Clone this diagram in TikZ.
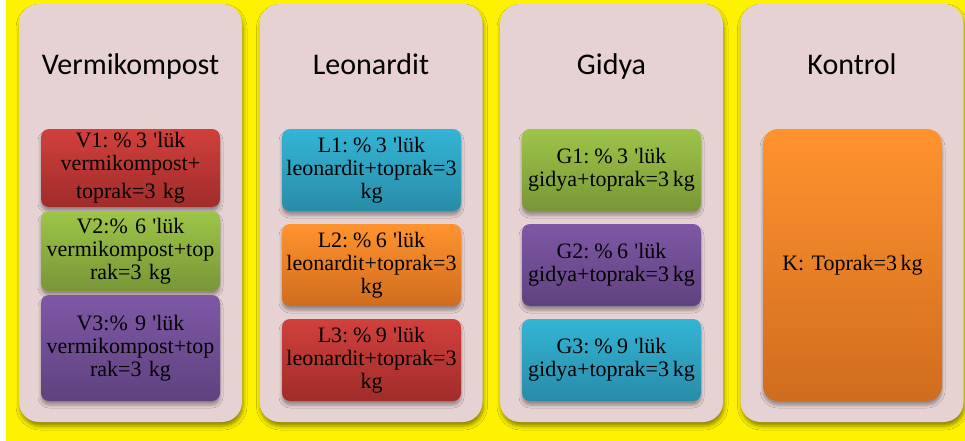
\documentclass[tikz,border=0pt]{standalone}
\usepackage{fontspec}
\setmainfont{Liberation Serif}
\newfontfamily\titlefont{Carlito}
\usetikzlibrary{shadows.blur}

\definecolor{panelpink}{RGB}{230,210,211}
\definecolor{redtop}{RGB}{209,64,60}
\definecolor{redbot}{RGB}{160,44,42}
\definecolor{greentop}{RGB}{158,197,72}
\definecolor{greenbot}{RGB}{120,150,55}
\definecolor{purpletop}{RGB}{126,88,166}
\definecolor{purplebot}{RGB}{95,66,127}
\definecolor{cyantop}{RGB}{52,180,214}
\definecolor{cyanbot}{RGB}{40,140,167}
\definecolor{orangetop}{RGB}{255,147,46}
\definecolor{orangebot}{RGB}{208,108,30}

\newcommand{\ap}{\hspace{-0.05em}\textquotesingle}
\newcommand{\pc}[1]{\hspace{0.22em}\%\hspace{0.2em}#1}

\begin{document}
\begin{tikzpicture}[x=1pt,y=-1pt,
  panel/.style={rectangle, rounded corners=20pt, fill=panelpink, draw=none,
    minimum width=223pt, minimum height=418pt, inner sep=0pt,
    blur shadow={shadow xshift=1pt, shadow yshift=-4pt, shadow blur radius=4pt, shadow opacity=45}},
  heading/.style={font=\titlefont\fontsize{30}{36}\selectfont, anchor=base, inner sep=0pt},
  cbox/.style={rectangle, rounded corners=8pt, draw=none,
    minimum width=179pt, text width=177pt, inner sep=1pt, align=center,
    font=\fontsize{22}{23}\selectfont, text=black,
    blur shadow={shadow xshift=0pt, shadow yshift=-4pt, shadow blur radius=3pt, shadow opacity=35}},
  redbox/.style={cbox, top color=redtop, bottom color=redbot},
  greenbox/.style={cbox, top color=greentop, bottom color=greenbot},
  purplebox/.style={cbox, top color=purpletop, bottom color=purplebot},
  cyanbox/.style={cbox, top color=cyantop, bottom color=cyanbot},
  orangebox/.style={cbox, top color=orangetop, bottom color=orangebot},
]
\useasboundingbox (0,0) rectangle (965,441);
% page background
\fill[white] (0,0) rectangle (965,441);
\fill[yellow] (6,0) rectangle (965,441);

% group panels
\node[panel] (pv) at (130.5,213) {};
\node[panel] (pl) at (371,213) {};
\node[panel] (pg) at (611.5,213) {};
\node[panel] (pk) at (852,213) {};

% headings
\node[heading] (tv) at (130.5,75) {Vermikompost};
\node[heading] (tl) at (371,75) {Leonardit};
\node[heading] (tg) at (611.5,75) {Gidya};
\node[heading] (tk) at (852,75) {Kontrol};

% Vermikompost treatments
\node[redbox, minimum height=78pt] (v1) at (130.5,168)
  {V1:\pc{3} \ap lük\\ vermikompost+\\[5pt] toprak=3 kg};
\node[greenbox, minimum height=80pt] (v2) at (130.5,251)
  {V2:\% 6 \ap lük\\ vermikompost+top\\ rak=3 kg};
\node[purplebox, minimum height=106pt] (v3) at (130.5,348)
  {V3:\% 9 \ap lük\\ vermikompost+top\\ rak=3 kg};

% Leonardit treatments
\node[cyanbox, minimum height=82pt] (l1) at (371.5,170)
  {L1:\pc{3} \ap lük\\ leonardit+toprak=3\\ kg};
\node[orangebox, minimum height=82pt] (l2) at (371.5,265)
  {L2:\pc{6} \ap lük\\ leonardit+toprak=3\\ kg};
\node[redbox, minimum height=82pt] (l3) at (371.5,360)
  {L3:\pc{9} \ap lük\\ leonardit+toprak=3\\ kg};

% Gidya treatments
\node[greenbox, minimum height=82pt] (g1) at (611.5,170)
  {G1:\pc{3} \ap lük\\ gidya+toprak=3\,kg};
\node[purplebox, minimum height=82pt] (g2) at (611.5,265)
  {G2:\pc{6} \ap lük\\ gidya+toprak=3\,kg};
\node[cyanbox, minimum height=82pt] (g3) at (611.5,360)
  {G3:\pc{9} \ap lük\\ gidya+toprak=3\,kg};

% Control
\node[orangebox, rounded corners=15pt, minimum height=272pt] (k) at (852.5,265)
  {K: Toprak=3\,kg};
\end{tikzpicture}
\end{document}
